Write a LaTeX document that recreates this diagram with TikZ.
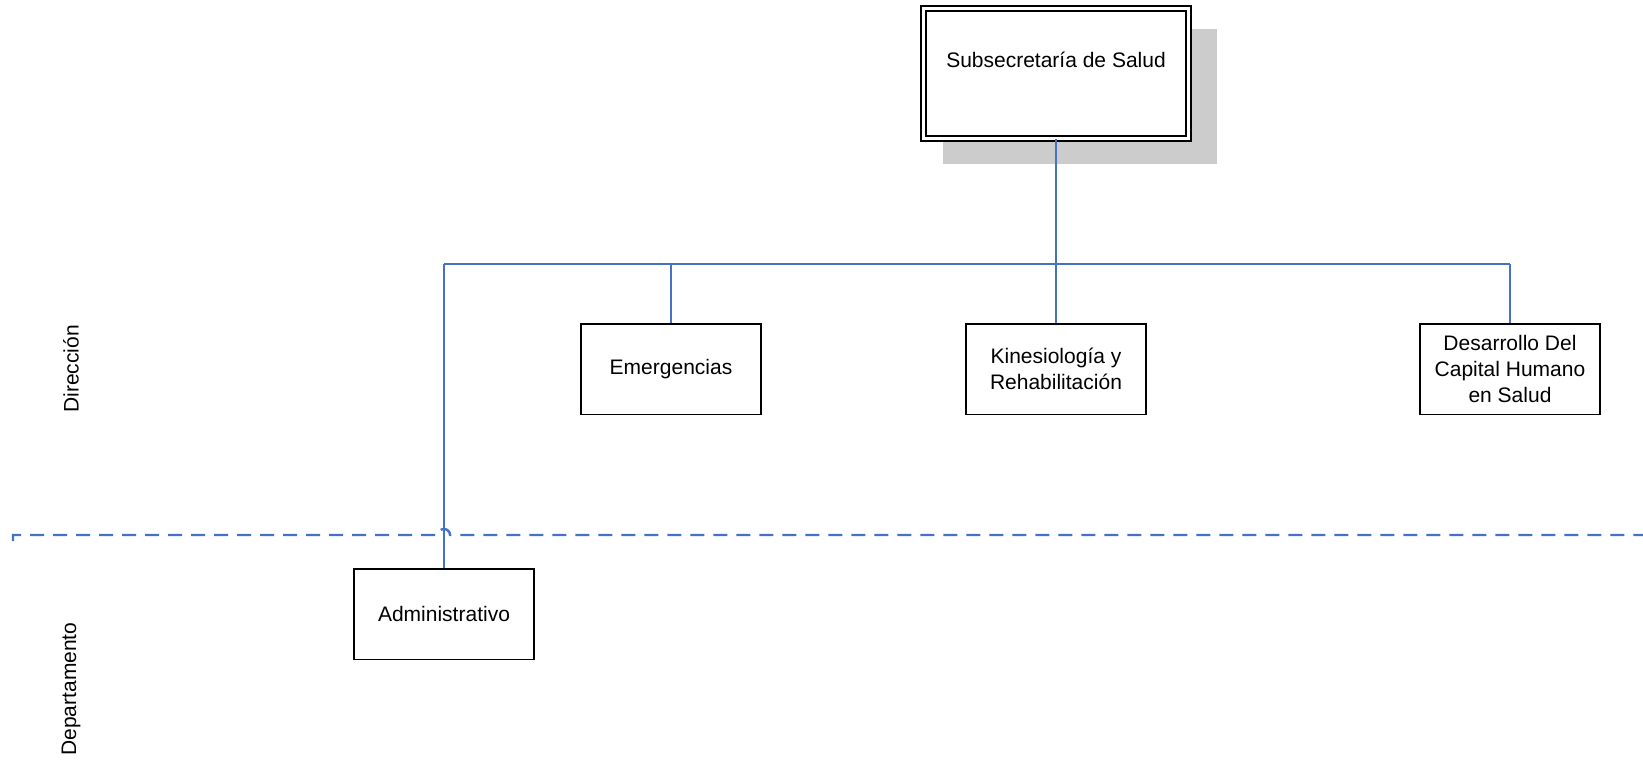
\documentclass[tikz,border=0pt]{standalone}
\usepackage{fontspec}
\setmainfont{Liberation Sans}
\usepackage{tikz}
\usetikzlibrary{shadows}
\definecolor{linkblue}{RGB}{68,114,196}
\tikzset{box/.style={rectangle,draw,line width=0.75pt,minimum width=90pt,minimum height=45.25pt,inner sep=2pt,align=center,font=\fontsize{10.5pt}{13pt}\selectfont}}
\tikzset{topbox/.style={rectangle,draw,fill=white,line width=1pt,double,double distance=1.5pt,minimum width=132.5pt,minimum height=65pt,drop shadow={opacity=1,fill=black!20,shadow xshift=11.5pt,shadow yshift=-11pt,shadow scale=1.035}}}
\tikzset{link/.style={linkblue,line width=1.2pt}}
\tikzset{level/.style={rotate=90,font=\fontsize{10.5pt}{13pt}\selectfont}}

\begin{document}
\begin{tikzpicture}[x=0.5pt,y=-0.5pt]
    \useasboundingbox (0,0) rectangle (1643,765);

    \node[topbox,label={[yshift=6.75pt,font=\fontsize{10.5pt}{13pt}\selectfont]center:Subsecretaría de Salud}] (sub) at (1056,73.5) {};
    \node[box] (emer) at (671,369) {Emergencias};
    \node[box] (kin) at (1056,369) {Kinesiología y\\Rehabilitación};
    \node[box] (des) at (1510,369) {Desarrollo Del\\Capital Humano\\en Salud};
    \node[box] (adm) at (444,614) {Administrativo};

    \node[level] (dir) at (71,369) {Dirección};
    \node[level] (dep) at (71,689) {Departamento};

    \coordinate (bl) at (444,264);
    \coordinate (br) at (1510,264);
    \coordinate (dl) at (13,541);
    \coordinate (dr) at (1643,535);

    \draw [link] (sub.south) to [] (kin.north);
    \draw [link] (bl) to [] (br);
    \draw [link] (emer.north) to [] (emer.north |- bl);
    \draw [link] (br) to [] (des.north);
    \draw [link] (bl) to [] (adm.north);
    \draw [link,dash pattern=on 7pt off 4.5pt] (dl) -- (13,535) -- (438,535) arc[start angle=180,end angle=0,radius=3pt] -- (dr);
\end{tikzpicture}
\end{document}
